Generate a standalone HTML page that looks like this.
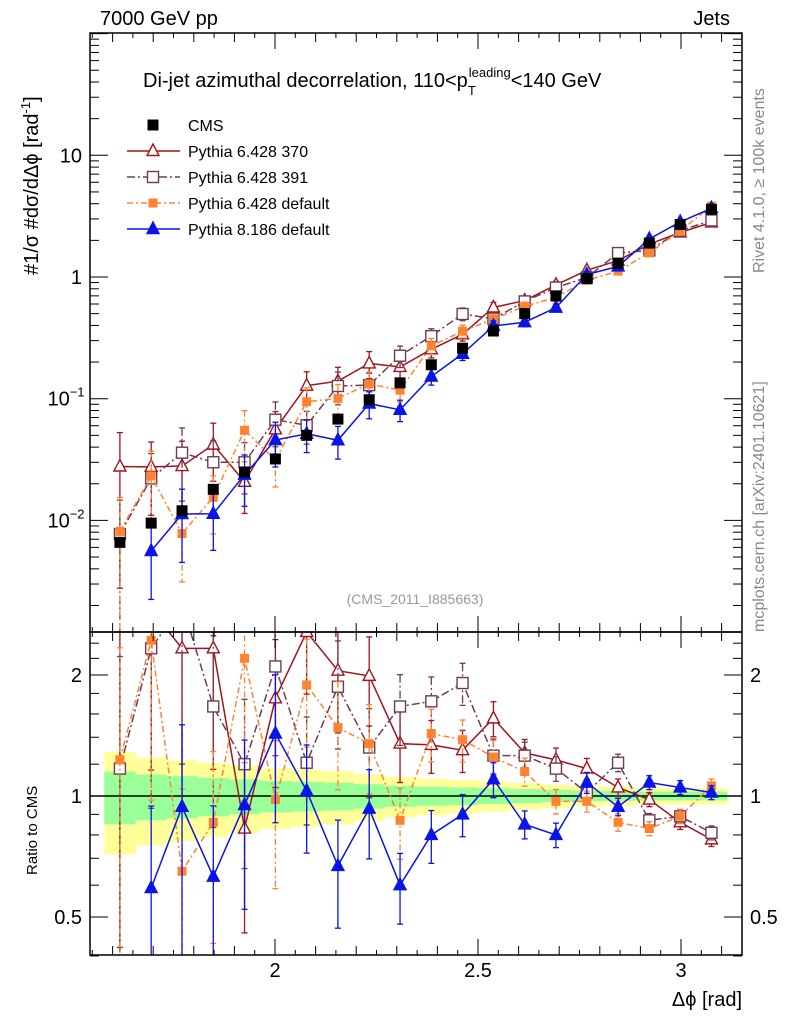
<!DOCTYPE html>
<html><head><meta charset="utf-8"><style>
html,body{margin:0;background:#fff;overflow:hidden;width:786px;height:1024px}
svg{font-family:"Liberation Sans",sans-serif;display:block}
</style></head><body>
<svg id="c" width="786" height="1024" xmlns="http://www.w3.org/2000/svg"></svg>
<script>
const centers=[1.618,1.695,1.771,1.848,1.925,2.001,2.078,2.155,2.232,2.308,2.385,2.462,2.538,2.615,2.692,2.768,2.845,2.922,2.998,3.075];
const cms=[0.0066,0.0095,0.012,0.018,0.025,0.032,0.05,0.068,0.098,0.135,0.19,0.26,0.36,0.5,0.7,0.97,1.3,1.9,2.7,3.6];
const cmsErr=[0.15,0.13,0.12,0.11,0.1,0.09,0.085,0.08,0.07,0.06,0.055,0.05,0.045,0.04,0.035,0.03,0.028,0.025,0.025,0.025];
const r370=[4.2,2.9,2.33,2.33,0.83,1.75,2.56,2.05,1.99,1.35,1.34,1.30,1.56,1.28,1.23,1.17,1.05,0.98,0.86,0.78];
const r391=[1.17,2.33,3.0,1.67,1.2,2.1,1.21,1.87,1.32,1.67,1.72,1.91,1.26,1.26,1.17,1.02,1.21,0.87,0.89,0.81];
const r6def=[1.23,2.44,0.65,0.86,2.2,0.98,1.89,1.48,1.35,0.87,1.43,1.38,1.25,1.15,0.97,0.97,0.86,0.83,0.89,1.06];
const r8def=[null,0.59,0.94,0.63,0.95,1.43,1.03,0.67,0.93,0.6,0.8,0.9,1.1,0.85,0.8,1.08,0.94,1.08,1.05,1.02];
const mcErr=[0.9,0.6,0.6,0.5,0.45,0.4,0.3,0.3,0.25,0.2,0.15,0.12,0.1,0.08,0.07,0.06,0.05,0.04,0.04,0.04];
const xTicks=[2,2.5,3];
const yTicks=[{v:10,t:"10"},{v:1,t:"1"},{v:0.1,t:"10",e:"−1"},{v:0.01,t:"10",e:"−2"}];
const rTicks=[{v:2,t:"2"},{v:1,t:"1"},{v:0.5,t:"0.5"}];

const L=90,R=742,T=33,M=632,B=955;
const X=v=>275+(v-2)*406;
const Y=v=>277-Math.log10(v)*121.7;
const RY=v=>796-Math.log2(v)*121;
const hw=15.6;
const svg=document.getElementById('c');
const NS="http://www.w3.org/2000/svg";
function el(tag,attrs,parent,text){const e=document.createElementNS(NS,tag);for(const k in attrs)e.setAttribute(k,attrs[k]);if(text!==undefined)e.textContent=text;(parent||svg).appendChild(e);return e;}
const clipDefs=el('defs',{});
const c1=el('clipPath',{id:'ct'},clipDefs);el('rect',{x:L,y:T,width:R-L,height:M-T},c1);
const c2=el('clipPath',{id:'cb'},clipDefs);el('rect',{x:L,y:M,width:R-L,height:B-M},c2);
const gT=el('g',{'clip-path':'url(#ct)'});


const gB=el('g',{'clip-path':'url(#cb)'});



centers.forEach((c,i)=>{
  const e2=cmsErr[i]*1.9;
  const y1=el('rect',{x:X(c)-hw,y:RY(1+e2),width:2*hw+0.5,height:RY(1-e2)-RY(1+e2),fill:'#ffff99'},gB);
  
  
  const g1=el('rect',{x:X(c)-hw,y:RY(1+cmsErr[i]),width:2*hw+0.5,height:RY(1-cmsErr[i])-RY(1+cmsErr[i]),fill:'#99ff99'},gB);
  
  
});
el('line',{x1:L,x2:R,y1:RY(1),y2:RY(1),stroke:'#000','stroke-width':1.5},gB);

const series=[
 {name:'pythia-6-370',r:r370,col:'#a0141e',dash:'',m:'otri'},
 {name:'pythia-6-391',r:r391,col:'#6e3c50',dash:'8,3,2,3',m:'osq'},
 {name:'pythia-6-default',r:r6def,col:'#ff8230',dash:'6,3,2,3',m:'fsq'},
 {name:'pythia-8-default',r:r8def,col:'#0a14e6',dash:'',m:'ftri'}
];
function marker(g,type,x,y,col,nm){
  let e;
  if(type==='otri'||type==='ftri'){e=el('polygon',{points:`${x},${y-7} ${x-6},${y+4.5} ${x+6},${y+4.5}`,fill:type==='ftri'?col:'#fff',stroke:col,'stroke-width':1.4},g);}
  else if(type==='osq'){e=el('rect',{x:x-5.5,y:y-5.5,width:11,height:11,fill:'#fff',stroke:col,'stroke-width':1.4},g);}
  else if(type==='fsq'){e=el('rect',{x:x-4.5,y:y-4.5,width:9,height:9,fill:col},g);}
  else {e=el('rect',{x:x-5.5,y:y-5.5,width:11,height:11,fill:'#000'},g);}
  
  
}
series.forEach(s=>{
  [[gT,true],[gB,false]].forEach(([g,top])=>{
    const pts=[];
    centers.forEach((c,i)=>{if(s.r[i]==null)return;const v=top?s.r[i]*cms[i]:s.r[i];const yy=top?Y(v):RY(v);pts.push([X(c),yy,v,i]);});
    const p=el('polyline',{points:pts.map(p=>p[0]+','+p[1]).join(' '),fill:'none',stroke:s.col,'stroke-width':1.5,'stroke-dasharray':s.dash},g);
    
    
    pts.forEach(([x,y,v,i])=>{
      const e=mcErr[i];const yh=top?Y(v*(1+e)):RY(v*(1+e));const yl=top?Y(Math.max(v*(1-e),1e-5)):RY(Math.max(v*(1-e),0.01));
      const eb=el('line',{x1:x,x2:x,y1:yh,y2:yl,stroke:s.col,'stroke-width':1.3,'stroke-dasharray':s.dash},g);
      
      
      el('line',{x1:x-3,x2:x+3,y1:yh,y2:yh,stroke:s.col,'stroke-width':1.3},g);
      el('line',{x1:x-3,x2:x+3,y1:yl,y2:yl,stroke:s.col,'stroke-width':1.3},g);
      marker(g,s.m,x,y,s.col,s.name+'-point');
    });
  });
});
centers.forEach((c,i)=>marker(gT,'cms',X(c),Y(cms[i]),'#000','cms-point'));

[[T,M],[M,B]].forEach(([a,b],k)=>{
  const f=el('rect',{x:L,y:a,width:R-L,height:b-a,fill:'none',stroke:'#000','stroke-width':1.5});
  
  
});
for(let v=1.55;v<=3.15;v+=0.05){const x=X(v);if(x<L||x>R)continue;const maj=Math.abs(v*2-Math.round(v*2))<0.01;const mid=Math.abs(v*10-Math.round(v*10))<0.01;const len=maj?16:(mid?9:5);
  [T,M].forEach(y0=>el('line',{x1:x,x2:x,y1:y0,y2:y0+len,stroke:'#000'}));
  el('line',{x1:x,x2:x,y1:M,y2:M-len,stroke:'#000'});el('line',{x1:x,x2:x,y1:B,y2:B-len,stroke:'#000'});}
xTicks.forEach(v=>{const t=el('text',{x:X(v),y:977,'font-size':20,'text-anchor':'middle'},svg,String(v));});
for(let d=-3;d<=2;d++)for(let m=1;m<10;m++){const v=m*Math.pow(10,d);const y=Y(v);if(y<T||y>M)continue;const len=m===1?18:9;el('line',{x1:L,x2:L+len,y1:y,y2:y,stroke:'#000'});el('line',{x1:R,x2:R-len,y1:y,y2:y,stroke:'#000'});}
yTicks.forEach(t=>{const tx=el('text',{x:t.e?66:82,y:Y(t.v)+7,'font-size':20,'text-anchor':t.e?'middle':'end'},svg,t.t);if(t.e){el('tspan',{'font-size':13,dy:-9},tx,t.e);}});
[0.4,0.5,0.6,0.7,0.8,0.9,1,1.2,1.4,1.6,1.8,2,2.2,2.4].forEach(v=>{const y=RY(v);const maj=[0.5,1,2].includes(v);const len=maj?18:9;el('line',{x1:L,x2:L+len,y1:y,y2:y,stroke:'#000'});el('line',{x1:R,x2:R-len,y1:y,y2:y,stroke:'#000'});});
rTicks.forEach(t=>{[[82,'end'],[750,'start']].forEach(([x,a])=>{const tx=el('text',{x:x,y:RY(t.v)+7,'font-size':20,'text-anchor':a},svg,t.t);});});

function txt(x,y,s,size,name,extra){const t=el('text',Object.assign({x:x,y:y,'font-size':size},extra||{}),svg,s);return t;}
txt(100,25,'7000 GeV pp',20,'energy-label');
txt(730,25,'Jets',20,'process-label',{'text-anchor':'end'});
const ti=txt(143,87,'Di-jet azimuthal decorrelation, 110<p',20,'plot-title');
el('tspan',{'font-size':13,dy:8},ti,'T');el('tspan',{'font-size':13,dy:-18,dx:-7},ti,'leading');el('tspan',{dy:10},ti,'<140 GeV');
txt(415,604,'(CMS_2011_I885663)',14,'analysis-id',{'text-anchor':'middle',fill:'#999'});
txt(742,1006,'Δϕ [rad]',20,'x-axis-title',{'text-anchor':'end'});
txt(0,0,'Ratio to CMS',15,'ratio-axis-title',{transform:'translate(37,875) rotate(-90)'});
const yt=txt(0,0,'#',20,'y-axis-title',{transform:'translate(38,275) rotate(-90)'});
el('tspan',{},yt,'1/σ #dσ/dΔϕ [rad');el('tspan',{'font-size':13,dy:-8},yt,'-1');el('tspan',{dy:8},yt,']');
txt(0,0,'Rivet 4.1.0, ≥ 100k events',16,'rivet-label',{transform:'translate(764,273) rotate(-90)',fill:'#888'});
txt(0,0,'mcplots.cern.ch [arXiv:2401.10621]',16,'mcplots-label',{transform:'translate(764,632) rotate(-90)',fill:'#888'});
const leg=[['CMS','#000','','cms'],['Pythia 6.428 370','#a0141e','','otri'],['Pythia 6.428 391','#6e3c50','8,3,2,3','osq'],['Pythia 6.428 default','#ff8230','6,3,2,3','fsq'],['Pythia 8.186 default','#0a14e6','','ftri']];
leg.forEach((l,i)=>{const y=125+i*26;
  if(l[3]!=='cms'){const ln=el('line',{x1:127,x2:180,y1:y,y2:y,stroke:l[1],'stroke-width':1.5,'stroke-dasharray':l[2]});}
  marker(svg,l[3],153,y,l[1],'legend-marker');
  txt(188,y+6,l[0],16,'legend-entry');
});
</script>
</body></html>
